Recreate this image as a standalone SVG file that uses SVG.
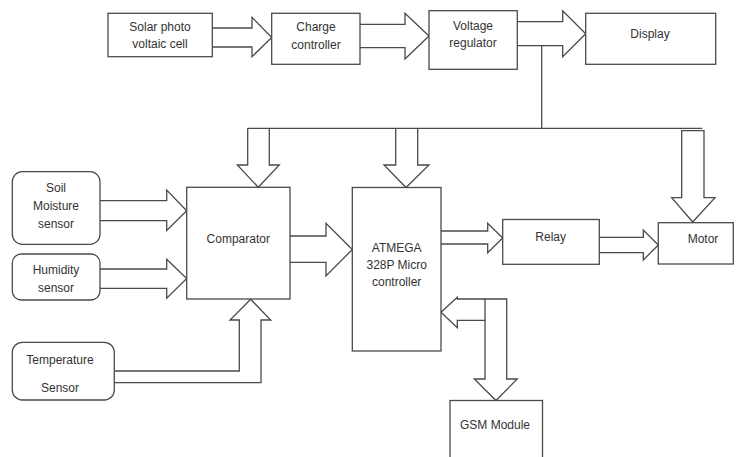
<svg xmlns="http://www.w3.org/2000/svg" width="736" height="457" viewBox="0 0 736 457">
<style>
.box{fill:#fff;stroke:#4a4a4a;stroke-width:1.3}
.arr{fill:none;stroke:#4a4a4a;stroke-width:1.3;stroke-linejoin:miter}
.t{font-family:"Liberation Sans",Arial,sans-serif;font-size:12px;fill:#333;text-anchor:middle}
</style>
<rect width="736" height="457" fill="#fff"/>
<g id="connectors">
<path class="arr" d="M212,28 H252 V17.3 L271.7,37.5 L252,56.7 V47 H212"/>
<path class="arr" d="M360,24.3 H405 V13.3 L429,36 L405,59 V47.7 H360"/>
<path class="arr" d="M517.3,21.7 H562.7 V10.7 L585.7,33.7 L562.7,56.7 V45.7 H517.3"/>
<path class="arr" d="M541.7,45.7 V128.3"/>
<path class="arr" d="M247.7,128.3 H702.3"/>
<path class="arr" d="M247.7,128.3 V165 H237.3 L258.3,187.3 L279.3,165 H269.3 V128.3"/>
<path class="arr" d="M395.7,128.3 V165 H384 L406,187.5 L429,165 H417.7 V128.3"/>
<path class="arr" d="M681.7,130.7 H704 V197.7 H715 L692.7,222 L671.7,197.7 H681.7 Z"/>
<path class="arr" d="M100,200.7 H166.7 V190 L186.7,210.7 L166.7,230.5 V220.7 H100"/>
<path class="arr" d="M100,269 H166.7 V259.3 L186.7,278.5 L166.7,298.3 V288.3 H100"/>
<path class="arr" d="M114.3,371 H239.3 V320 H230 L250.7,299.3 L270.7,320 H261 V382.7 H114.3"/>
<path class="arr" d="M290,236 H326 V223.3 L352.3,249.5 L326,276 V262.3 H290"/>
<path class="arr" d="M441,231 H487.7 V223.3 L502.7,238 L487.7,252.7 V244 H441"/>
<path class="arr" d="M599.3,237.3 H643.3 V230 L658.3,245 L643.3,260 V252.7 H599.3"/>
<path class="arr" d="M485,299 H457.3 V297.3 L441,312.3 L457.3,327.7 V320.3 H485"/>
<path class="arr" d="M485,299 H506.7 V379 H517.3 L496,400.5 L474.3,379 H485 Z"/>
</g>
<g id="solar"><rect class="box" x="108" y="13.3" width="104.3" height="43.4"/><text class="t" x="160" y="30.5">Solar photo</text><text class="t" x="160" y="48">voltaic cell</text></g>
<g id="charge"><rect class="box" x="271.7" y="13.3" width="88.3" height="51"/><text class="t" x="316" y="31">Charge</text><text class="t" x="316" y="48.5">controller</text></g>
<g id="voltage"><rect class="box" x="429" y="10.7" width="88.3" height="58.6"/><text class="t" x="473" y="30">Voltage</text><text class="t" x="473" y="47">regulator</text></g>
<g id="display"><rect class="box" x="585.7" y="13.3" width="130" height="51"/><text class="t" x="650" y="37.5">Display</text></g>
<g id="soil"><rect class="box" x="12.3" y="171.7" width="87.7" height="72.6" rx="10"/><text class="t" x="56" y="192">Soil</text><text class="t" x="56" y="210">Moisture</text><text class="t" x="56" y="227.5">sensor</text></g>
<g id="humidity"><rect class="box" x="12.3" y="254" width="87.7" height="46" rx="9"/><text class="t" x="56" y="273.5">Humidity</text><text class="t" x="56" y="291.5">sensor</text></g>
<g id="temperature"><rect class="box" x="12.3" y="342.3" width="102" height="57.7" rx="10"/><text class="t" x="60" y="364">Temperature</text><text class="t" x="60" y="391.5">Sensor</text></g>
<g id="comparator"><rect class="box" x="186.7" y="187.3" width="103.3" height="111.7"/><text class="t" x="238.3" y="242.5">Comparator</text></g>
<g id="atmega"><rect class="box" x="352.3" y="187.5" width="88.7" height="163.5"/><text class="t" x="396.7" y="251.5">ATMEGA</text><text class="t" x="396.7" y="269">328P Micro</text><text class="t" x="396.7" y="286">controller</text></g>
<g id="relay"><rect class="box" x="502.7" y="219.5" width="96.6" height="44.8"/><text class="t" x="550.7" y="241">Relay</text></g>
<g id="motor"><rect class="box" x="658.3" y="222.7" width="75" height="41.3"/><text class="t" x="703" y="242.5">Motor</text></g>
<g id="gsm"><rect class="box" x="450" y="400.5" width="92.5" height="70"/><text class="t" x="495" y="429">GSM Module</text></g>
</svg>
